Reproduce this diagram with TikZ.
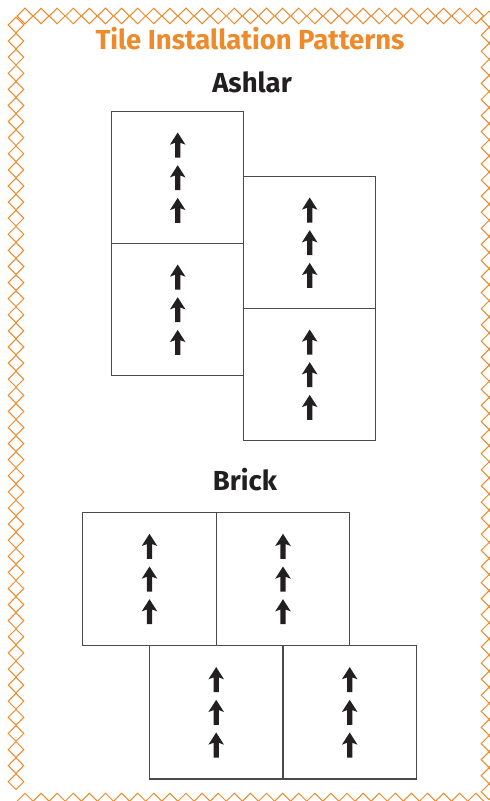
\documentclass[tikz,border=0pt]{standalone}
\usepackage{fontspec}
\setmainfont{Fira Sans}
\definecolor{tileorange}{HTML}{EE8A2A}
\definecolor{tilegray}{HTML}{4A4A4A}
\definecolor{inkdark}{HTML}{231F20}
\begin{document}
\begin{tikzpicture}[x=1pt,y=-1pt,
  tile/.style={draw=tilegray,line width=1.3pt,minimum width=132pt,minimum height=132pt,inner sep=0pt,outer sep=0pt},
  bricktile/.style={tile,minimum width=133.5pt,minimum height=133.5pt},
  diamondpic/.pic={\draw[tileorange,line width=1pt] (-7.8,0) -- (0,-7.8) -- (7.8,0) -- (0,7.8) -- cycle;},
  uparrow/.pic={\fill[inkdark] (0,-12.5) -- (7.8,-0.3) -- (2.7,-2.2) -- (2.7,12.5) -- (-2.7,12.5) -- (-2.7,-2.2) -- (-7.8,-0.3) -- cycle;},
  arrowtrio/.pic={\pic at (0,-32.7) {uparrow}; \pic at (0,0) {uparrow}; \pic at (0,32.7) {uparrow};},
  titletext/.style={font=\bfseries\fontsize{27.5}{32}\selectfont,text=tileorange,anchor=base,inner sep=0pt},
  headtext/.style={font=\bfseries\fontsize{27.5}{32}\selectfont,text=inkdark,anchor=base,inner sep=0pt}]
\useasboundingbox (0,0) rectangle (490,801);
\begin{scope}
\clip (0,0) rectangle (490,801);
\foreach \i in {0,...,28} {\path (25+16.1*\i,16) pic {diamondpic};}
\foreach \i in {0,...,47} {\path (16,25+16.1*\i) pic {diamondpic};}
\foreach \i in {0,...,48} {\path (489,19+16.1*\i) pic {diamondpic};}
\foreach \i in {0,...,28} {\path (25+16.1*\i,801) pic {diamondpic};}
\end{scope}
\node[titletext] (title) at (250,49) {Tile Installation Patterns};
\node[headtext] (ashlar) at (252,92) {Ashlar};
\node[headtext] (brick) at (245,490) {Brick};
% Ashlar
\node[tile] (a1) at (177.7,177.7) {};
\node[tile] (a2) at (177.7,309.7) {};
\node[tile] (a3) at (309.7,242.7) {};
\node[tile] (a4) at (309.7,374.7) {};
\foreach \t in {a1,a2,a3,a4} {\path (\t.center) pic {arrowtrio};}
% Brick
\node[bricktile] (b1) at (149.5,579) {};
\node[bricktile] (b2) at (283,579) {};
\node[bricktile] (b3) at (216.2,712.3) {};
\node[bricktile] (b4) at (349.7,712.3) {};
\foreach \t in {b1,b2,b3,b4} {\path (\t.center) pic {arrowtrio};}
\end{tikzpicture}
\end{document}
